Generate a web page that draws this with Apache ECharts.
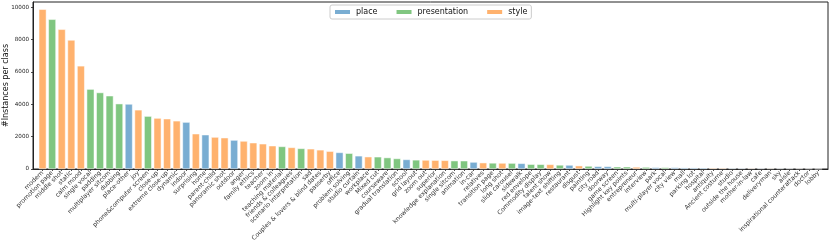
<!DOCTYPE html>
<html>
<head>
<meta charset="utf-8">
<script src="https://cdn.jsdelivr.net/npm/echarts@6/dist/echarts.min.js"></script>
<style>html,body{margin:0;padding:0;background:#fff;}#c{width:831px;height:240px;}</style>
</head>
<body>
<div id="c"></div>
<script>
const categories = ["modern","promotion page","middle shot","static","calm mood","single vocal","padding","multiplayer sitcom","dubbing","place-other","joy","phone&computer screen","close-up","extreme close-up","dynamic","indoor","surprising","home","parent-child","panoramic shot","outdoor","anger","family ethics","teacher","zoom in","teaching material","friends & colleagues","scenario interpretation","sad","Couples & lovers & blind dates","passerby","office","problem solving","studio curtain","workplace","Mixed cut","courseware","gradual translation","school","grid layout","zoom out","superior","knowledge explanation","single sitcom","animation","in-car","relatives","transition page","long shot","slide carousel","sidewalk","red envelope","Commodity display","talent show","image-text shifting","restaurant","disgust","painting","city road","doorway","game screen","Highlight key points","entrepreneur","interview","park","multi-player vocal","city view","mall","parking lot","hospital","antiquity","Ancient costume","studio","outside the house","mother-in-law","cafe","deliveryman","sky","aisle","inspirational counterattack","doctor","lobby"];
const values = [9880,9260,8640,7980,6380,4940,4730,4530,4040,4020,3660,3270,3150,3110,2980,2900,2180,2120,1975,1935,1790,1730,1625,1560,1440,1395,1335,1272,1250,1185,1100,1025,975,815,760,755,705,650,590,565,555,545,535,515,510,430,390,375,370,365,350,295,290,285,250,245,205,185,165,160,140,138,125,120,100,98,95,82,80,75,65,62,50,48,45,42,40,38,36,33,25,8];
const groups = ["style","presentation","style","style","style","presentation","presentation","presentation","presentation","place","style","presentation","style","style","style","place","style","place","style","style","place","style","style","style","style","presentation","style","presentation","style","style","style","place","presentation","place","style","presentation","presentation","presentation","place","presentation","style","style","style","presentation","presentation","place","style","presentation","style","presentation","place","presentation","presentation","style","presentation","place","style","presentation","place","place","presentation","presentation","style","presentation","place","presentation","place","place","place","place","style","style","place","place","style","place","style","place","place","style","style","place"];
const groupNames = ["place","presentation","style"];
const groupColors = {place:"#79add2", presentation:"#80c680", style:"#ffb26e"};
const yTicks = [0,2000,4000,6000,8000,10000];

const idx = categories.map((_, i) => i);
const labelPositions = [-1].concat(idx, [categories.length]);
const series = groupNames.map(g => ({
  name: g,
  type: 'bar',
  barWidth: 7.6,
  barGap: '-100%',
  itemStyle: {color: groupColors[g], borderColor: '#fff', borderWidth: 0.5},
  data: idx.filter(i => groups[i] === g).map(i => [i, values[i]])
}));

const chart = echarts.init(document.getElementById('c'), null, {renderer: 'canvas'});
const FONT = 'DejaVu Sans';
chart.setOption({
  animation: false,
  textStyle: {fontFamily: FONT},
  grid: {left: 33, right: 3, top: 2, bottom: 71, containLabel: false, outerBoundsMode: 'none',
    show: true, borderColor: '#222', borderWidth: 1, backgroundColor: 'transparent'},
  legend: {
    data: groupNames, left: 330, top: 5, icon: 'rect', itemWidth: 17, itemHeight: 6, itemGap: 17,
    padding: [3, 4, 3, 3], borderColor: '#ccc', borderWidth: 1, borderRadius: 2, backgroundColor: '#fff',
    textStyle: {fontSize: 8, color: '#111', fontFamily: FONT, lineHeight: 8}
  },
  xAxis: {
    type: 'value', min: -1, max: categories.length, interval: 1,
    splitLine: {show: false},
    axisLine: {show: true, onZero: false, lineStyle: {color: '#222', width: 1}},
    axisTick: {show: true, length: 2, customValues: idx, lineStyle: {color: '#222', width: 0.8}},
    axisLabel: {
      customValues: labelPositions, rotate: 45, fontSize: 6.2, color: '#333', margin: 3, fontFamily: FONT,
      hideOverlap: false,
      formatter: v => categories[v] !== undefined ? categories[v] : ''
    }
  },
  yAxis: {
    type: 'value', min: 0, max: 10330, interval: 2000,
    name: '#Instances per class', nameLocation: 'middle', nameGap: 23, nameMoveOverlap: false,
    nameTextStyle: {fontSize: 8, color: '#111', fontFamily: FONT},
    splitLine: {show: false},
    axisLine: {show: true, onZero: false, lineStyle: {color: '#222', width: 1}},
    axisTick: {show: true, length: 2, customValues: yTicks, lineStyle: {color: '#222', width: 0.8}},
    axisLabel: {customValues: yTicks, fontSize: 5.6, color: '#222', margin: 4, fontFamily: FONT,
      formatter: v => String(v)}
  },
  series: series
});
</script>
</body>
</html>
